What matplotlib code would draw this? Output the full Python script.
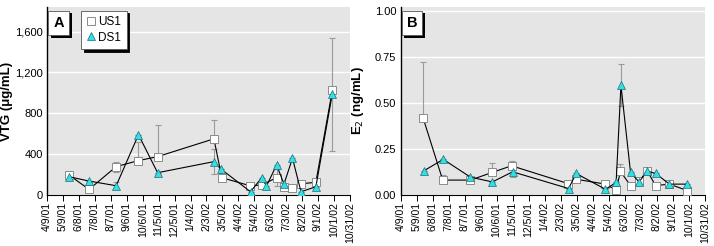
import numpy as np
import matplotlib
matplotlib.use("Agg")
import matplotlib.pyplot as plt
import matplotlib.patheffects as pe
from matplotlib.lines import Line2D

plt.rcParams['font.family'] = ['Liberation Sans Narrow', 'Liberation Sans', 'DejaVu Sans']

# x positions are days after 4/9/01
date_labels = ['4/9/01', '5/9/01', '6/8/01', '7/8/01', '8/7/01', '9/6/01',
               '10/6/01', '11/5/01', '12/5/01', '1/4/02', '2/3/02', '3/5/02',
               '4/4/02', '5/4/02', '6/3/02', '7/3/02', '8/2/02', '9/1/02',
               '10/1/02', '10/31/02']

# Panel A: VTG (ug/mL)
vtg_us1_days = [41, 79, 130, 172, 208, 314, 329, 382, 404, 432, 446, 462, 478, 506, 537]
vtg_us1 = [193, 51, 275, 334, 373, 548, 166, 87, 94, 166, 71, 61, 107, 120, 1025]
vtg_us1_lo = [42, 0, 49, 0, 0, 0, 0, 0, 0, 86, 0, 0, 0, 0, 595]
vtg_us1_hi = [42, 0, 49, 178, 310, 181, 0, 0, 0, 86, 0, 0, 0, 0, 518]

vtg_ds1_days = [41, 79, 130, 172, 208, 314, 327, 383, 404, 413, 432, 446, 462, 478, 506, 537]
vtg_ds1 = [176, 133, 87, 588, 215, 324, 252, 28, 166, 84, 291, 104, 357, 28, 77, 993]
vtg_ds1_err = [0, 0, 36, 0, 0, 122, 0, 0, 0, 0, 0, 0, 0, 0, 0, 0]

# Panel B: E2 (ng/mL)
e2_us1_days = [42, 79, 131, 172, 208, 314, 328, 384, 404, 412, 431, 447, 462, 478, 504, 537]
e2_us1 = [0.42, 0.079, 0.079, 0.121, 0.157, 0.060, 0.084, 0.057, 0.025, 0.126,
          0.049, 0.072, 0.13, 0.049, 0.057, 0.022]
e2_us1_lo = [0, 0, 0, 0, 0, 0, 0, 0, 0, 0, 0, 0, 0, 0, 0, 0]
e2_us1_hi = [0.30, 0.03, 0, 0.05, 0.025, 0, 0, 0, 0, 0.04, 0, 0, 0, 0, 0, 0]

e2_ds1_days = [44, 80, 131, 172, 210, 315, 329, 384, 404, 413, 431, 447, 462, 478, 504, 537]
e2_ds1 = [0.13, 0.192, 0.095, 0.069, 0.124, 0.033, 0.115, 0.029, 0.066, 0.595,
          0.121, 0.069, 0.128, 0.115, 0.057, 0.057]
e2_ds1_err = [0, 0, 0, 0, 0.027, 0, 0, 0, 0, 0.115, 0, 0, 0, 0, 0, 0]

SQ = dict(marker='s', ms=5.2, mfc='white', mec='#8a8a8a', mew=0.7)
TRI = dict(marker='^', ms=6.3, mfc='#33dfe6', mec='#1a6f78', mew=0.5)


def add_series(ax, days, vals, lo, hi, style):
    ax.errorbar(days, vals, yerr=[lo, hi], fmt='none', ecolor='#9a9a9a',
                elinewidth=0.8, capsize=2, capthick=0.8, zorder=2)
    ax.plot(days, vals, color='black', lw=0.8, zorder=3, **style)


def setup(ax, ymax, yticks, ylabels, ylabel):
    ax.set_facecolor('#e5e5e5')
    ax.set_xlim(0, 570)
    ax.set_ylim(0, ymax)
    ax.set_xticks(np.arange(len(date_labels)) * 30)
    ax.set_xticklabels(date_labels, rotation=90, fontsize=7.6)
    ax.set_yticks(yticks)
    ax.set_yticklabels(ylabels, fontsize=8)
    ax.tick_params(axis='y', length=0, pad=3)
    ax.tick_params(axis='x', length=4, width=0.7, pad=1.5)
    ax.grid(axis='y', color='white', lw=1)
    ax.set_axisbelow(True)
    for s in ['top', 'right']:
        ax.spines[s].set_visible(False)
    ax.spines['left'].set_linewidth(1.0)
    ax.spines['bottom'].set_linewidth(0.8)
    ax.set_ylabel(ylabel, fontsize=9.5, fontweight='bold')
    ax.yaxis.set_label_coords(-0.112, 0.5)


def panel_tag(ax, letter):
    t = ax.text(0.02, 0.955, letter, transform=ax.transAxes, fontsize=10.5,
                fontweight='bold', ha='left', va='top', zorder=6,
                bbox=dict(boxstyle='square,pad=0.35', fc='white', ec='#555555', lw=0.6))
    t.get_bbox_patch().set_path_effects(
        [pe.SimplePatchShadow(offset=(2, -2), shadow_rgbFace='black', alpha=1),
         pe.Normal()])


fig = plt.figure(figsize=(7.14, 2.46), dpi=100)
axA = fig.add_axes([0.066, 0.209, 0.424, 0.761])
axB = fig.add_axes([0.561, 0.209, 0.426, 0.761])

setup(axA, 1840, [0, 400, 800, 1200, 1600], ['0', '400', '800', '1,200', '1,600'],
      'VTG (\u03bcg/mL)')
add_series(axA, vtg_us1_days, vtg_us1, vtg_us1_lo, vtg_us1_hi, SQ)
add_series(axA, vtg_ds1_days, vtg_ds1, vtg_ds1_err, vtg_ds1_err, TRI)
panel_tag(axA, 'A')

handles = [Line2D([], [], ls='none', **SQ), Line2D([], [], ls='none', **TRI)]
leg = axA.legend(handles, ['US1', 'DS1'], loc='upper left', bbox_to_anchor=(0.105, 0.995),
                 fontsize=8.5, frameon=True, fancybox=False, handlelength=0.7,
                 handletextpad=0.3, borderpad=0.45, labelspacing=0.3, borderaxespad=0.2,
                 shadow={'color': 'black', 'alpha': 1})
leg.get_frame().set_edgecolor('#555555')
leg.get_frame().set_linewidth(0.6)
leg.set_zorder(7)

setup(axB, 1.02, [0, 0.25, 0.5, 0.75, 1.0], ['0.00', '0.25', '0.50', '0.75', '1.00'],
      'E$_2$ (ng/mL)')
add_series(axB, e2_us1_days, e2_us1, e2_us1_lo, e2_us1_hi, SQ)
add_series(axB, e2_ds1_days, e2_ds1, e2_ds1_err, e2_ds1_err, TRI)
panel_tag(axB, 'B')

fig.savefig('out.png', dpi=100)
